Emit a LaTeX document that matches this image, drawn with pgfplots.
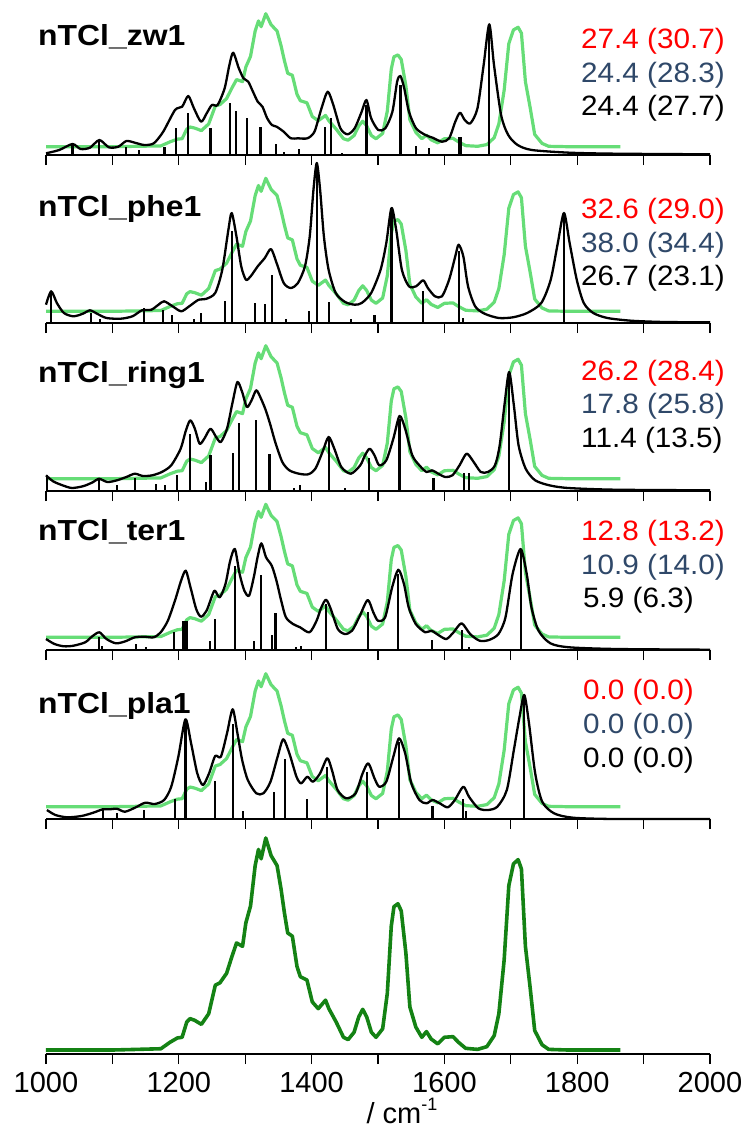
\documentclass[border=0pt]{standalone}
\usepackage{fontspec}
\setmainfont{Liberation Sans}
\usepackage{pgfplots}
\pgfplotsset{compat=1.18}
\usepackage{pgfplotstable}
\definecolor{lgreen}{RGB}{102,221,119}
\definecolor{dgreen}{RGB}{20,130,20}
\definecolor{sblue}{RGB}{47,72,105}
\definecolor{sred}{RGB}{255,0,0}

\pgfplotstableread{
x I
1000 0
1100 0
1138 0.003
1173 0.006
1187 0.037
1198 0.057
1205 0.060
1212 0.132
1217 0.148
1224 0.140
1234 0.121
1245 0.171
1255 0.306
1262 0.317
1272 0.362
1280 0.441
1287 0.505
1296 0.489
1301 0.600
1308 0.679
1315 0.870
1320 0.946
1324 0.902
1331 1.0
1339 0.917
1348 0.870
1354 0.759
1359 0.648
1364 0.552
1371 0.537
1378 0.394
1383 0.346
1393 0.330
1401 0.227
1410 0.195
1421 0.235
1426 0.195
1437 0.132
1448 0.060
1455 0.049
1464 0.084
1471 0.156
1477 0.192
1483 0.156
1490 0.084
1497 0.060
1507 0.100
1514 0.267
1520 0.584
1524 0.676
1530 0.690
1535 0.656
1542 0.457
1548 0.203
1557 0.108
1566 0.060
1573 0.087
1580 0.052
1590 0.029
1600 0.060
1613 0.063
1621 0.037
1632 0.008
1650 0.003
1664 0.016
1675 0.068
1682 0.171
1690 0.425
1697 0.775
1704 0.878
1711 0.898
1716 0.854
1722 0.489
1729 0.298
1736 0.092
1747 0.025
1757 0.003
1786 0
1865 0
}\exptab

\pgfplotsset{
 panel/.style={
  scale only axis, width=664bp, height=150bp,
  xmin=1000, xmax=2000, ymin=0, ymax=150,
  axis x line=bottom, axis y line=none,
  x axis line style={-, line width=2.8bp},
  xtick={1000,1100,...,2000},
  tick align=outside, major tick length=10bp,
  tick style={line width=1.1bp, black},
  xticklabels={},
  clip=false,
  anchor=south west,
 },
 calc/.style={black, line width=2.3bp, no markers, line join=round, smooth, tension=0.45},
 stick/.style={black, line width=2.2bp, ycomb, no markers},
 exp/.style={lgreen, line width=3.2bp, no markers, line join=round},
}
\newcommand{\lbl}{\fontsize{28bp}{32bp}\selectfont}
\newcommand{\tlbl}{\fontsize{29bp}{32bp}\selectfont}
\newcommand{\blbl}{\bfseries\fontsize{29bp}{32bp}\selectfont}
\tikzset{
 rl/.style={anchor=base west, inner sep=0, font=\lbl, xscale=1.06, transform shape},
 ll/.style={anchor=base west, inner sep=0, font=\blbl, xscale=1.1, transform shape},
}

\begin{document}
\begin{tikzpicture}
\path[use as bounding box] (0,0) rectangle (741bp,-1127bp);

% ---------------- Panel 1: zw1
\begin{axis}[panel, at={(46bp,-155bp)}]
\addplot[exp] table[x=x, y expr=8.3+133*\thisrow{I}] {\exptab};
\addplot[calc] coordinates {
(1000,1.7)(1019.9,5.0)(1039.9,11.0)(1052.0,6.0)(1066.2,7.3)(1080.4,15.0)(1094.7,7.7)(1108.9,8.3)(1121.0,14.0)(1133.8,12.3)(1148.0,10.0)(1162.3,11.7)(1176.5,23.3)(1194.3,45.0)(1205.0,48.3)(1214.2,59.0)(1222.8,46.7)(1233.5,33.3)(1242.0,41.7)(1249.8,50.0)(1258.4,50.0)(1269.0,66.7)(1276.2,90.0)(1281.9,102.3)(1290.4,86.7)(1297.5,76.7)(1304.6,73.3)(1311.7,63.3)(1318.9,53.3)(1326.0,48.3)(1333.1,36.7)(1340.2,30.0)(1347.3,28.3)(1358.0,23.3)(1368.7,16.7)(1379.4,16.7)(1393.6,16.7)(1404.3,23.3)(1414.9,46.7)(1424.2,63.3)(1432.7,50.0)(1443.4,26.7)(1454.1,20.7)(1464.8,26.7)(1475.4,43.3)(1482.6,55.0)(1489.7,36.7)(1500.4,25.0)(1511.0,26.7)(1521.7,43.3)(1528.8,73.3)(1533.8,79.0)(1539.5,66.7)(1546.6,43.3)(1557.3,26.7)(1571.5,20.0)(1582.2,17.3)(1596.4,13.3)(1607.1,16.7)(1616.4,33.3)(1623.5,42.3)(1630.6,35.0)(1639.1,31.7)(1649.8,46.7)(1659.1,90.0)(1667.6,130.7)(1674.7,90.0)(1685.4,40.0)(1696.1,20.0)(1710.3,10.0)(1731.7,5.0)(1788.6,2.3)(1859.8,1.3)(2000,0.7)};
\addplot[stick] coordinates {
(1039.9,10.0)(1080.4,14.0)(1121.0,7.7)(1139.5,5.0)(1178.6,8.3)(1195.7,26.7)(1214.2,42.3)(1247.7,26.7)(1276.9,52.3)(1286.1,44.3)(1303.2,36.7)(1323.1,28.3)(1345.9,10.7)(1358.0,2.7)(1381.5,5.7)(1420.6,27.7)(1429.2,36.7)(1445.6,1.7)(1482.6,50.0)(1533.8,70.0)(1557.3,9.0)(1577.2,6.7)(1621.4,17.7)(1624.9,17.7)(1667.6,130.0)};
\end{axis}

% ---------------- Panel 2: phe1
\begin{axis}[panel, at={(46bp,-323bp)}]
\addplot[exp] table[x=x, y expr=11.7+133*\thisrow{I}] {\exptab};
\addplot[calc] coordinates {
(1000,18.3)(1007.8,31.7)(1016.4,20.0)(1027.0,10.0)(1041.3,6.7)(1055.5,9.3)(1066.2,12.7)(1076.9,9.3)(1091.1,5.0)(1112.5,4.3)(1130.2,6.7)(1144.5,12.7)(1158.7,13.3)(1169.4,18.3)(1177.9,21.7)(1190.7,16.7)(1203.6,11.7)(1215.7,16.7)(1229.9,23.3)(1240.6,24.0)(1254.8,30.0)(1265.5,53.3)(1274.7,93.3)(1279.7,110.0)(1286.8,86.7)(1294.0,56.7)(1301.1,43.3)(1308.2,46.7)(1318.9,56.7)(1329.5,65.0)(1338.8,74.0)(1347.3,60.0)(1358.0,40.0)(1368.7,35.0)(1379.4,40.0)(1390.0,56.7)(1397.2,86.7)(1402.8,133.3)(1407.8,160)(1412.8,133.3)(1418.5,86.7)(1425.6,53.3)(1436.3,30.0)(1450.5,21.0)(1464.8,18.3)(1475.4,20.0)(1489.7,30.0)(1503.9,53.3)(1512.5,80.0)(1520.3,115.0)(1527.4,93.3)(1535.9,53.3)(1546.6,36.7)(1557.3,36.7)(1568.0,42.7)(1575.1,35.0)(1585.8,26.7)(1596.4,26.7)(1607.1,43.3)(1616.4,66.7)(1621.4,78.3)(1628.5,66.7)(1635.6,36.7)(1646.3,16.7)(1660.5,9.3)(1681.9,5.0)(1703.2,5.7)(1724.6,10.0)(1745.9,20.0)(1760.1,43.3)(1770.8,80.0)(1780.1,110.0)(1788.6,80.0)(1799.3,43.3)(1809.9,20.0)(1824.2,10.0)(1845.6,5.0)(1881.1,2.3)(1931.0,1.0)(2000,0.7)};
\addplot[stick] coordinates {
(1007.8,30.0)(1067.6,10.0)(1081.9,4.3)(1148.0,15.0)(1176.5,13.3)(1189.3,8.3)(1222.8,4.3)(1233.5,10.0)(1269.0,22.3)(1279.7,92.3)(1315.3,20.0)(1329.5,19.3)(1340.2,48.3)(1361.6,4.3)(1395.7,12.3)(1407.8,155)(1425.6,20.7)(1459.8,4.3)(1494.7,8.3)(1520.3,113.3)(1568.0,31.7)(1621.4,71.7)(1628.5,5.0)(1780.1,106.7)};
\end{axis}

% ---------------- Panel 3: ring1
\begin{axis}[panel, at={(46bp,-491bp)}]
\addplot[exp] table[x=x, y expr=12.3+133*\thisrow{I}] {\exptab};
\addplot[calc] coordinates {
(1000,15.7)(1010.7,9.7)(1024.9,5.7)(1039.1,3.0)(1056.9,5.0)(1071.2,9.0)(1079.7,12.3)(1092.5,9.0)(1106.8,10.7)(1121.0,14.0)(1133.8,17.3)(1145.9,15.0)(1160.1,15.7)(1174.4,19.0)(1188.6,25.7)(1202.8,42.3)(1210.0,59.0)(1217.1,70.7)(1224.2,62.3)(1231.3,47.3)(1238.4,52.3)(1247.7,62.3)(1256.2,54.0)(1263.3,49.0)(1272.6,62.3)(1281.1,89.0)(1288.3,109.0)(1295.4,99.0)(1302.5,84.0)(1309.6,90.7)(1316.7,100.7)(1323.8,92.3)(1331.0,80.7)(1338.1,65.7)(1345.2,49.0)(1355.9,29.0)(1366.5,20.7)(1380.8,17.3)(1395.0,16.7)(1405.7,22.3)(1416.4,39.0)(1425.6,54.0)(1434.2,42.3)(1444.8,24.0)(1459.1,17.3)(1473.3,25.7)(1480.4,35.7)(1487.5,42.3)(1494.7,35.7)(1501.8,25.7)(1512.5,30.7)(1523.1,52.3)(1532.4,75.0)(1540.9,62.3)(1551.6,35.7)(1562.3,25.7)(1573.0,19.0)(1581.5,20.7)(1590.7,17.3)(1601.4,14.0)(1612.1,15.7)(1622.8,25.7)(1633.5,37.3)(1644.1,29.0)(1654.8,19.0)(1665.5,19.0)(1676.2,25.7)(1683.3,45.7)(1690.4,85.7)(1697.5,119.0)(1704.6,85.7)(1711.7,45.7)(1722.4,22.3)(1736.7,10.7)(1758.0,5.7)(1786.5,3.0)(1857.7,1.3)(2000,0.7)};
\addplot[stick] coordinates {
(1001.4,15.7)(1079.7,11.7)(1107.5,6.3)(1133.8,13.3)(1165.8,7.3)(1179.4,5.7)(1197.2,15.7)(1217.1,57.3)(1240.6,9.0)(1247.7,36.3)(1281.1,38.0)(1290.4,68.0)(1316.7,71.3)(1336.7,37.3)(1373.7,3.0)(1382.2,6.3)(1425.6,52.3)(1450.5,3.0)(1486.1,33.3)(1532.4,72.3)(1583.6,13.0)(1629.9,18.3)(1637.0,18.3)(1697.5,117.3)};
\end{axis}

% ---------------- Panel 4: ter1
\begin{axis}[panel, at={(46bp,-650bp)}]
\addplot[exp] table[x=x, y expr=12.7+133*\thisrow{I}] {\exptab};
\addplot[calc] coordinates {
(1000,11.0)(1012.8,6.0)(1027.0,3.7)(1041.3,4.3)(1059.0,7.7)(1069.7,13.7)(1080.4,17.7)(1091.0,11.0)(1105.3,6.7)(1119.5,8.7)(1133.7,12.7)(1147.9,13.3)(1162.2,12.7)(1172.8,17.7)(1183.5,29.3)(1194.2,49.3)(1203.4,69.3)(1210.5,79.3)(1217.6,62.7)(1226.2,41.0)(1233.3,33.3)(1241.8,39.3)(1251.1,56.0)(1254.6,59.3)(1261.7,52.7)(1270.3,66.0)(1277.4,89.3)(1284.5,101.0)(1291.6,76.0)(1298.7,59.3)(1305.8,54.3)(1312.9,72.7)(1318.6,92.7)(1324.3,106.7)(1331.4,92.7)(1340.0,84.3)(1347.1,69.3)(1354.2,49.3)(1361.3,32.7)(1372.0,26.0)(1382.6,22.7)(1396.9,17.7)(1407.5,29.3)(1414.7,42.7)(1421.8,50.3)(1428.9,41.0)(1439.5,21.0)(1450.2,16.0)(1460.9,19.3)(1471.6,32.7)(1484.4,50.0)(1492.9,37.7)(1500.0,29.3)(1510.7,32.7)(1521.3,62.7)(1530.6,80.3)(1539.1,66.0)(1546.2,42.7)(1556.9,26.0)(1571.1,17.7)(1580.4,19.3)(1592.5,14.3)(1603.1,11.0)(1613.8,17.7)(1625.9,26.7)(1638.7,16.0)(1652.9,9.3)(1667.1,10.0)(1681.4,16.0)(1692.0,32.7)(1702.7,76.0)(1714.8,101.0)(1724.0,76.0)(1731.1,42.7)(1741.8,19.3)(1759.6,6.7)(1788.1,2.7)(1859.2,1.0)(2000,0.3)};
\addplot[stick] coordinates {
(1080.4,12.7)(1083.9,4.3)(1135.8,6.0)(1150.1,3.3)(1192.7,17.7)(1207.0,29.3)(1209.8,29.3)(1212.7,29.3)(1247.5,9.3)(1254.6,31.0)(1285.2,84.3)(1313.7,9.3)(1324.3,75.3)(1340.0,15.3)(1345.7,37.0)(1377.0,2.7)(1384.1,4.3)(1421.8,46.0)(1484.4,37.7)(1530.6,76.0)(1581.8,10.0)(1625.9,20.0)(1637.3,3.3)(1714.8,100.0)};
\end{axis}

% ---------------- Panel 5: pla1
\begin{axis}[panel, at={(46bp,-819bp)}]
\addplot[exp] table[x=x, y expr=12.3+133*\thisrow{I}] {\exptab};
\addplot[calc] coordinates {
(1001.4,9.0)(1014.2,4.0)(1032.0,1.7)(1053.4,3.0)(1071.2,6.3)(1085.4,9.7)(1096.1,9.7)(1106.8,10.3)(1118.9,7.3)(1135.2,11.7)(1149.5,16.3)(1163.7,15.0)(1177.9,19.0)(1188.6,32.3)(1199.3,62.3)(1210.0,99.7)(1218.5,75.7)(1227.8,45.7)(1236.3,34.0)(1245.6,45.7)(1254.8,63.0)(1263.3,62.3)(1272.6,85.7)(1281.1,109.7)(1288.3,85.7)(1295.4,59.0)(1303.9,39.0)(1316.7,25.7)(1327.4,25.7)(1338.1,37.3)(1348.8,62.3)(1357.3,79.7)(1366.5,65.7)(1377.2,42.3)(1384.3,35.7)(1393.6,42.3)(1402.1,37.3)(1412.8,45.7)(1423.5,60.7)(1430.6,49.0)(1439.1,29.0)(1452.0,20.7)(1466.2,25.7)(1476.9,45.7)(1485.4,55.7)(1494.7,40.7)(1501.8,32.3)(1512.5,37.3)(1523.1,62.3)(1531.7,80.7)(1540.9,65.7)(1550.2,35.7)(1562.3,19.0)(1573.0,15.7)(1582.2,19.0)(1592.9,15.7)(1605.0,11.7)(1615.7,19.0)(1628.5,32.3)(1637.0,22.3)(1651.2,10.7)(1665.5,9.0)(1679.7,12.3)(1694.0,29.0)(1704.6,69.0)(1713.2,102.3)(1720.3,124.0)(1727.4,95.7)(1736.7,45.7)(1747.3,17.3)(1765.1,5.7)(1793.6,1.3)(1857.7,0)(2000,0)};
\addplot[stick] coordinates {
(1085.4,9.7)(1106.8,5.7)(1148.0,9.0)(1194.3,20.0)(1210.0,97.3)(1254.1,38.0)(1281.1,95.0)(1296.8,8.0)(1343.1,26.7)(1359.4,60.0)(1392.9,20.0)(1423.5,51.7)(1484.0,47.3)(1531.7,77.3)(1582.2,13.0)(1628.5,20.0)(1632.0,8.3)(1720.3,122.3)};
\end{axis}

% ---------------- Panel 6: experiment
\begin{axis}[panel, at={(46bp,-1054bp)}, height=230bp, ymax=230,
  xticklabels={1000,,1200,,1400,,1600,,1800,,2000},
  xticklabel style={font=\tlbl, inner sep=0pt, anchor=north, yshift=-8bp},
  /pgf/number format/assume math mode=true]
\addplot[dgreen, line width=3.6bp, no markers, line join=round] table[x=x, y expr=4+212*\thisrow{I}] {\exptab};
\end{axis}

\node[anchor=base, inner sep=0, font=\tlbl] at (402bp,-1123bp) {/ cm\raisebox{0.42em}{\fontsize{18bp}{20bp}\selectfont -1}};

% labels left
\node[ll] at (38bp,-45bp) {nTCl\_zw1};
\node[ll] at (38bp,-216bp) {nTCl\_phe1};
\node[ll] at (38bp,-382bp) {nTCl\_ring1};
\node[ll] at (38bp,-540bp) {nTCl\_ter1};
\node[ll] at (38bp,-713bp) {nTCl\_pla1};

% labels right
\node[rl, text=sred]  at (581bp,-48bp) {27.4 (30.7)};
\node[rl, text=sblue] at (581bp,-82bp) {24.4 (28.3)};
\node[rl, text=black] at (581bp,-115bp) {24.4 (27.7)};

\node[rl, text=sred]  at (581bp,-218bp) {32.6 (29.0)};
\node[rl, text=sblue] at (581bp,-252bp) {38.0 (34.4)};
\node[rl, text=black] at (581bp,-285bp) {26.7 (23.1)};

\node[rl, text=sred]  at (581bp,-380bp) {26.2 (28.4)};
\node[rl, text=sblue] at (581bp,-413bp) {17.8 (25.8)};
\node[rl, text=black] at (581bp,-447bp) {11.4 (13.5)};

\node[rl, text=sred]  at (581bp,-540bp) {12.8 (13.2)};
\node[rl, text=sblue] at (581bp,-574bp) {10.9 (14.0)};
\node[rl, text=black] at (583bp,-607bp) {5.9 (6.3)};

\node[rl, text=sred]  at (583bp,-699bp) {0.0 (0.0)};
\node[rl, text=sblue] at (583bp,-733bp) {0.0 (0.0)};
\node[rl, text=black] at (583bp,-767bp) {0.0 (0.0)};
\end{tikzpicture}
\end{document}
